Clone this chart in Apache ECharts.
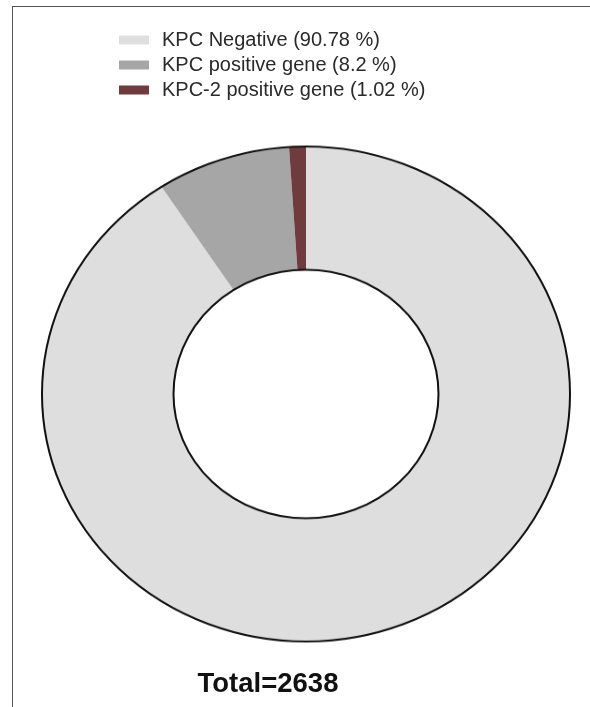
<!DOCTYPE html>
<html>
<head>
<meta charset="utf-8">
<script src="https://cdn.jsdelivr.net/npm/echarts@6/dist/echarts.min.js"></script>
<style>
  html, body { margin: 0; padding: 0; background: #fff; }
  body { width: 590px; height: 707px; position: relative; overflow: hidden; }
  .frame {
    position: absolute; left: 12px; top: 6px; width: 620px; height: 740px;
    border-left: 1.5px solid #555; border-top: 1.5px solid #555;
  }
  /* the ring in the reference is slightly squashed vertically */
  #ring {
    position: absolute; left: 40.5px; top: 129px; width: 530px; height: 530px;
    transform: scaleY(0.9375); transform-origin: 50% 50%;
  }
  #over { position: absolute; left: 0; top: 0; width: 590px; height: 707px; }
</style>
</head>
<body>
<div class="frame"></div>
<div id="ring"></div>
<div id="over"></div>
<script>
// ── data ─────────────────────────────────────────────
const NAMES  = ['KPC Negative (90.78 %)', 'KPC positive gene (8.2 %)', 'KPC-2 positive gene (1.02 %)']
const COUNTS = [2395, 216, 27]
const COLORS = ['#dedede', '#a6a6a6', '#6f3b3d']

const TOTAL = COUNTS.reduce((a, b) => a + b, 0)
const pieData = NAMES.map((n, i) => ({ name: n, value: COUNTS[i], itemStyle: { color: COLORS[i] } }))

// ── ring (scaled div) ───────────────────────────────
const ring = echarts.init(document.getElementById('ring'), null, { renderer: 'canvas' })
ring.setOption({
  animation: false,
  series: [
    {
      type: 'pie',
      radius: [132.5, 264],
      center: ['50%', '50%'],
      startAngle: 90,
      clockwise: true,
      silent: true,
      label: { show: false },
      labelLine: { show: false },
      itemStyle: { borderWidth: 0 },
      data: pieData,
    },
    {
      // outer + inner outline only, no radial edges
      type: 'pie',
      radius: [132.5, 264],
      center: ['50%', '50%'],
      silent: true,
      z: 3,
      label: { show: false },
      labelLine: { show: false },
      itemStyle: { color: 'rgba(0,0,0,0)', borderColor: '#111', borderWidth: 2 },
      data: [{ name: 'outline', value: 1 }],
    },
  ],
})

// ── legend + total ──────────────────────────────────
const over = echarts.init(document.getElementById('over'), null, { renderer: 'canvas' })
over.setOption({
  animation: false,
  legend: {
    orient: 'vertical',
    left: 114,
    top: 25,
    itemWidth: 30,
    itemHeight: 9,
    itemGap: 5,
    icon: 'rect',
    selectedMode: false,
    data: NAMES,
    textStyle: { color: '#2a2a2a', fontSize: 20, fontFamily: 'Liberation Sans, Arial, sans-serif', padding: [0, 0, 0, 8] },
  },
  graphic: [{
    type: 'text',
    x: 268,
    y: 684,
    style: {
      text: 'Total=' + TOTAL,
      fill: '#111',
      font: 'bold 27.5px "Liberation Sans", Arial, sans-serif',
      textAlign: 'center',
      textVerticalAlign: 'middle',
    },
  }],
  series: [{
    // feeds the legend only
    type: 'pie',
    radius: [0, 0],
    center: [-50, -50],
    silent: true,
    label: { show: false },
    labelLine: { show: false },
    itemStyle: { borderWidth: 0 },
    data: pieData,
  }],
})
</script>
</body>
</html>
